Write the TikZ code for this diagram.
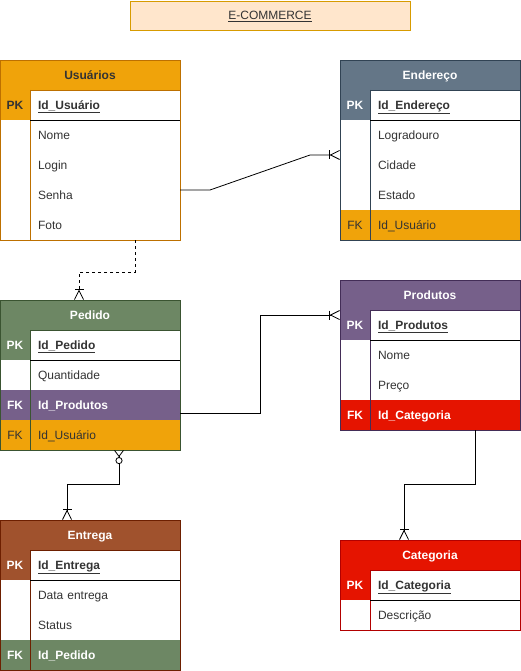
\documentclass[tikz,border=0pt]{standalone}
\usepackage{fontspec}
\setmainfont{Liberation Sans}
\usepackage{tikz}
\usetikzlibrary{arrows.meta,positioning}
\definecolor{titlefill}{HTML}{FFE6CC}
\definecolor{titleline}{HTML}{D79B00}
\definecolor{orangefill}{HTML}{F0A30A}
\definecolor{orangeline}{HTML}{BD7000}
\definecolor{slatefill}{HTML}{647687}
\definecolor{slateline}{HTML}{314354}
\definecolor{greenfill}{HTML}{6D8764}
\definecolor{greenline}{HTML}{3A5431}
\definecolor{purplefill}{HTML}{76608A}
\definecolor{purpleline}{HTML}{432D57}
\definecolor{redfill}{HTML}{E51400}
\definecolor{redline}{HTML}{B20000}
\definecolor{brownfill}{HTML}{A0522D}
\definecolor{brownline}{HTML}{6D1F00}
\definecolor{textgrey}{HTML}{333333}

\begin{document}
\begin{tikzpicture}[x=1pt, y=-1pt, line width=0.8pt,
  every node/.style={font=\fontsize{12pt}{14pt}\selectfont, text=textgrey, inner sep=0pt, outer sep=0pt, text height=10pt, text depth=1.4pt},
  head/.style={draw, minimum width=180pt, minimum height=30pt, anchor=north west, font=\fontsize{12pt}{14pt}\selectfont\bfseries, text=white},
  keycell/.style={minimum width=30pt, minimum height=30pt},
  fieldcell/.style={minimum width=150pt, minimum height=30pt, text width=134pt, align=left},
  onemany/.style={-{Bar[width=9pt,sep=0pt]Straight Barb[reversed,length=9pt,width=9pt]}},
  zeromany/.style={{Straight Barb[reversed,length=6pt,width=9pt]Circle[open,length=7pt,width=7pt,fill=white]}-{Bar[width=9pt,sep=0pt]Straight Barb[reversed,length=9pt,width=9pt]}}
]
  \useasboundingbox (0,0) rectangle (521,671);

  % title
  \node[draw=titleline, fill=titlefill, minimum width=280pt, minimum height=29pt] (title) at (270,15.5) {\underline{E-COMMERCE}};

  % Usuarios
  \node[head, fill=orangefill, draw=orangeline, text=textgrey] (usr) at (0,60) {Usuários};
  \node[keycell, fill=orangefill, below=0pt of usr.south west, anchor=north west] (usrpk) {\textbf{PK}};
  \node[fieldcell, right=0pt of usrpk] (usrpkf) {\underline{\textbf{Id\_Usuário}}};
  \node[keycell, below=0pt of usrpk] (usrk1) {};
  \node[fieldcell, right=0pt of usrk1] (usrf1) {Nome};
  \node[keycell, below=0pt of usrk1] (usrk2) {};
  \node[fieldcell, right=0pt of usrk2] (usrf2) {Login};
  \node[keycell, below=0pt of usrk2] (usrk3) {};
  \node[fieldcell, right=0pt of usrk3] (usrf3) {Senha};
  \node[keycell, below=0pt of usrk3] (usrk4) {};
  \node[fieldcell, right=0pt of usrk4] (usrf4) {Foto};
  \draw[orangeline] (usr.north west) rectangle (usrf4.south east);
  \draw[orangeline] (usrpk.north east) -- (usrk4.south east);
  \draw (usrpkf.south west) -- (usrpkf.south east);

  % Endereco
  \node[head, fill=slatefill, draw=slateline] (end) at (340,60) {Endereço};
  \node[keycell, fill=slatefill, text=white, below=0pt of end.south west, anchor=north west] (endpk) {\textbf{PK}};
  \node[fieldcell, right=0pt of endpk] (endpkf) {\underline{\textbf{Id\_Endereço}}};
  \node[keycell, below=0pt of endpk] (endk1) {};
  \node[fieldcell, right=0pt of endk1] (endf1) {Logradouro};
  \node[keycell, below=0pt of endk1] (endk2) {};
  \node[fieldcell, right=0pt of endk2] (endf2) {Cidade};
  \node[keycell, below=0pt of endk2] (endk3) {};
  \node[fieldcell, right=0pt of endk3] (endf3) {Estado};
  \node[keycell, fill=orangefill, below=0pt of endk3] (endk4) {FK};
  \node[fieldcell, fill=orangefill, right=0pt of endk4] (endf4) {Id\_Usuário};
  \draw[slateline] (end.north west) rectangle (endf4.south east);
  \draw[slateline] (endpk.north east) -- (endk4.south east);
  \draw (endpkf.south west) -- (endpkf.south east);

  % Pedido
  \node[head, fill=greenfill, draw=greenline] (ped) at (0,300) {Pedido};
  \node[keycell, fill=greenfill, text=white, below=0pt of ped.south west, anchor=north west] (pedpk) {\textbf{PK}};
  \node[fieldcell, right=0pt of pedpk] (pedpkf) {\underline{\textbf{Id\_Pedido}}};
  \node[keycell, below=0pt of pedpk] (pedk1) {};
  \node[fieldcell, right=0pt of pedk1] (pedf1) {Quantidade};
  \node[keycell, fill=purplefill, text=white, below=0pt of pedk1] (pedk2) {\textbf{FK}};
  \node[fieldcell, fill=purplefill, text=white, right=0pt of pedk2] (pedf2) {\textbf{Id\_Produtos}};
  \node[keycell, fill=orangefill, below=0pt of pedk2] (pedk3) {FK};
  \node[fieldcell, fill=orangefill, right=0pt of pedk3] (pedf3) {Id\_Usuário};
  \draw[greenline] (ped.north west) rectangle (pedf3.south east);
  \draw[greenline] (pedpk.north east) -- (pedk3.south east);
  \draw (pedpkf.south west) -- (pedpkf.south east);

  % Produtos
  \node[head, fill=purplefill, draw=purpleline] (prd) at (340,280) {Produtos};
  \node[keycell, fill=purplefill, text=white, below=0pt of prd.south west, anchor=north west] (prdpk) {\textbf{PK}};
  \node[fieldcell, right=0pt of prdpk] (prdpkf) {\underline{\textbf{Id\_Produtos}}};
  \node[keycell, below=0pt of prdpk] (prdk1) {};
  \node[fieldcell, right=0pt of prdk1] (prdf1) {Nome};
  \node[keycell, below=0pt of prdk1] (prdk2) {};
  \node[fieldcell, right=0pt of prdk2] (prdf2) {Preço};
  \node[keycell, fill=redfill, text=white, below=0pt of prdk2] (prdk3) {\textbf{FK}};
  \node[fieldcell, fill=redfill, text=white, right=0pt of prdk3] (prdf3) {\textbf{Id\_Categoria}};
  \draw[purpleline] (prd.north west) rectangle (prdf3.south east);
  \draw[purpleline] (prdpk.north east) -- (prdk3.south east);
  \draw (prdpkf.south west) -- (prdpkf.south east);

  % Entrega
  \node[head, fill=brownfill, draw=brownline] (ent) at (0,520) {Entrega};
  \node[keycell, fill=brownfill, text=white, below=0pt of ent.south west, anchor=north west] (entpk) {\textbf{PK}};
  \node[fieldcell, right=0pt of entpk] (entpkf) {\underline{\textbf{Id\_Entrega}}};
  \node[keycell, below=0pt of entpk] (entk1) {};
  \node[fieldcell, right=0pt of entk1] (entf1) {Data entrega};
  \node[keycell, below=0pt of entk1] (entk2) {};
  \node[fieldcell, right=0pt of entk2] (entf2) {Status};
  \node[keycell, fill=greenfill, text=white, below=0pt of entk2] (entk3) {\textbf{FK}};
  \node[fieldcell, fill=greenfill, text=white, right=0pt of entk3] (entf3) {\textbf{Id\_Pedido}};
  \draw[brownline] (ent.north west) rectangle (entf3.south east);
  \draw[brownline] (entpk.north east) -- (entk3.south east);
  \draw (entpkf.south west) -- (entpkf.south east);

  % Categoria
  \node[head, fill=redfill, draw=redline] (cat) at (340,540) {Categoria};
  \node[keycell, fill=redfill, text=white, below=0pt of cat.south west, anchor=north west] (catpk) {\textbf{PK}};
  \node[fieldcell, right=0pt of catpk] (catpkf) {\underline{\textbf{Id\_Categoria}}};
  \node[keycell, below=0pt of catpk] (catk1) {};
  \node[fieldcell, right=0pt of catk1] (catf1) {Descrição};
  \draw[redline] (cat.north west) rectangle (catf1.south east);
  \draw[redline] (catpk.north east) -- (catk1.south east);
  \draw (catpkf.south west) -- (catpkf.south east);

  % relations
  \draw[onemany] ([yshift=5pt]usrf3.east) -- ++(30,0) -- ([xshift=-30pt,yshift=-5pt]endk1.south west) -- ([yshift=-5pt]endk1.south west);
  \draw[onemany, dash pattern=on 3pt off 3pt] ([xshift=30pt]usrf4.south) -- ++(0,32) -| ([xshift=-11pt]ped.north);
  \draw[onemany] ([yshift=-8pt]pedf2.east) -- ++(80,0) |- ([yshift=-5pt]prdpk.north west);
  \draw[onemany] ([xshift=30pt]prdf3.south) -- ++(0,54) -| ([xshift=-26pt]cat.north);
  \draw[zeromany] ([xshift=14pt]pedf3.south) -- ++(0,34) -| ([xshift=-23pt]ent.north);
\end{tikzpicture}
\end{document}
